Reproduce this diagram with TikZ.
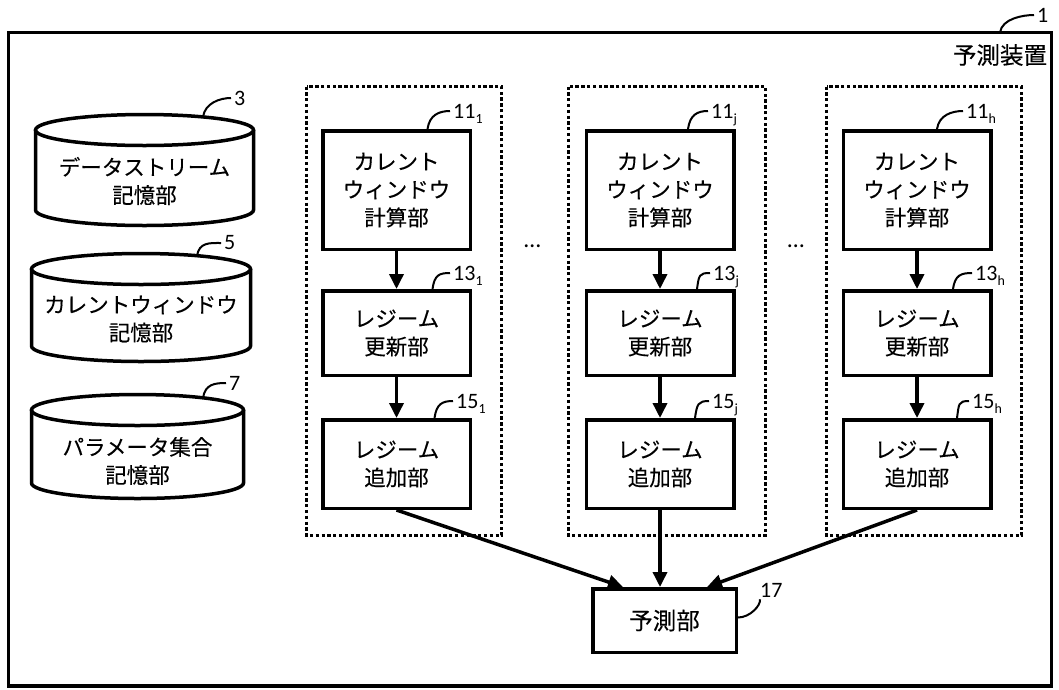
\documentclass[tikz,border=0pt]{standalone}
\usepackage{fontspec}
\setmainfont{Carlito}
\newfontfamily\jpfont[FakeBold=0.25]{Noto Sans CJK JP}
\usetikzlibrary{arrows.meta,calc}
\newcommand{\subx}[1]{\smash{\raisebox{-5pt}{\fontsize{14}{14}\selectfont #1}}}
\newcommand{\leader}[2]{\draw[lead] (#1) .. controls ($(#1)+(2,-14)$) and ($(#2.west)+(-14,0)$) .. ($(#2.west)+(-3,0)$);}
\begin{document}
\begin{tikzpicture}[x=1pt,y=-1pt,
  blk/.style={draw, line width=3.5pt, align=center, inner sep=0pt, minimum width=147.5pt, font=\jpfont\fontsize{21.5}{28}\selectfont},
  dotbox/.style={line width=3.5pt, dash pattern=on 3.3pt off 2.5pt},
  cyl/.style={line width=3.5pt},
  lead/.style={line width=2pt},
  num/.style={inner sep=0pt, anchor=west, font=\fontsize{22}{22}\selectfont},
  arr/.style={line width=3.5pt, -{Triangle[length=15pt,width=14pt]}},
  jtxt/.style={align=center, inner sep=0pt, font=\jpfont\fontsize{21.5}{28}\selectfont}]

\useasboundingbox (0,0) rectangle (1059,689);

% outer frame
\draw[line width=3.5pt] (8.5,32.5) rectangle (1051.5,686);
\node[jtxt, font=\jpfont\fontsize{23.5}{28}\selectfont] (title) at (1000,55) {予測装置};
\coordinate (f1) at (1000,32.5);
\node[num] (n1) at (1037,15) {1};
\leader{f1}{n1}

% cylinders
\draw[cyl] (35.5,130) -- (35.5,210) arc[start angle=180,end angle=0,x radius=109,y radius=15.5] -- (253.5,130);
\draw[cyl] (144.5,130) ellipse[x radius=109, y radius=15.5];
\node[jtxt] (s3) at (144.5,181) {データストリーム\\記憶部};
\coordinate (s3t) at (203,117);
\node[num] (n3) at (234,98) {3};
\leader{s3t}{n3}

\draw[cyl] (31.5,269) -- (31.5,346) arc[start angle=180,end angle=0,x radius=109.5,y radius=15.5] -- (250.5,269);
\draw[cyl] (141,269) ellipse[x radius=109.5, y radius=15.5];
\node[jtxt] (s5) at (141,319) {カレントウィンドウ\\記憶部};
\coordinate (s5t) at (197,256);
\node[num] (n5) at (224,243) {5};
\leader{s5t}{n5}

\draw[cyl] (31.5,410) -- (31.5,483) arc[start angle=180,end angle=0,x radius=106,y radius=15.5] -- (243.5,410);
\draw[cyl] (137.5,410) ellipse[x radius=106, y radius=15.5];
\node[jtxt] (s7) at (137.5,461) {パラメータ集合\\記憶部};
\coordinate (s7t) at (203,398);
\node[num] (n7) at (229,383) {7};
\leader{s7t}{n7}

% dotted groups
\draw[dotbox] (306.5,86.5) rectangle (501.5,535.5);
\draw[dotbox] (568.5,86.5) rectangle (765.5,535.5);
\draw[dotbox] (826.5,86.5) rectangle (1021.5,535.5);

% column 1
\node[blk, minimum height=118.5pt] (c1) at (396.5,190) {カレント\\ウィンドウ\\計算部};
\node[blk, minimum height=84.5pt] (u1) at (396.5,333) {レジーム\\更新部};
\node[blk, minimum height=88.5pt] (a1) at (396.5,464) {レジーム\\追加部};
% column j
\node[blk, minimum height=118.5pt] (cj) at (660,190) {カレント\\ウィンドウ\\計算部};
\node[blk, minimum height=84.5pt] (uj) at (660,333) {レジーム\\更新部};
\node[blk, minimum height=88.5pt] (aj) at (660,464) {レジーム\\追加部};
% column h
\node[blk, minimum height=118.5pt] (ch) at (917,190) {カレント\\ウィンドウ\\計算部};
\node[blk, minimum height=84.5pt] (uh) at (917,333) {レジーム\\更新部};
\node[blk, minimum height=88.5pt] (ah) at (917,464) {レジーム\\追加部};
% predictor
\node[blk, minimum width=143.5pt, minimum height=63.5pt, font=\jpfont\fontsize{23.5}{28}\selectfont] (p) at (664.5,620.5) {予測部};

% ellipses
\node[inner sep=0pt, font=\fontsize{24}{24}\selectfont] (d1) at (532.5,246) {…};
\node[inner sep=0pt, font=\fontsize{24}{24}\selectfont] (d2) at (796,246) {…};

% arrows
\draw[arr] (c1.south) -- (u1.north);
\draw[arr] (u1.south) -- (a1.north);
\draw[arr] (cj.south) -- (uj.north);
\draw[arr] (uj.south) -- (aj.north);
\draw[arr] (ch.south) -- (uh.north);
\draw[arr] (uh.south) -- (ah.north);
\draw[arr] (a1.south) -- ($(p.north)+(-41.5,0)$);
\draw[arr] (aj.south) -- (aj.south |- p.north);
\draw[arr] (ah.south) -- ($(p.north)+(42.5,0)$);

% reference labels
\node[num] (l11a) at (453,111) {11\subx{1}};
\node[num] (l13a) at (453,273) {13\subx{1}};
\node[num] (l15a) at (456,401) {15\subx{1}};
\node[num] (l11j) at (711,111) {11\subx{j}};
\node[num] (l13j) at (713,273) {13\subx{j}};
\node[num] (l15j) at (712,401) {15\subx{j}};
\node[num] (l11h) at (966,111) {11\subx{h}};
\node[num] (l13h) at (975,273) {13\subx{h}};
\node[num] (l15h) at (972,401) {15\subx{h}};
\coordinate (t11a) at ($(c1.north)+(31,0)$);
\coordinate (t13a) at ($(u1.north)+(36,0)$);
\coordinate (t15a) at ($(a1.north)+(38,0)$);
\coordinate (t11j) at ($(cj.north)+(28,0)$);
\coordinate (t13j) at ($(uj.north)+(37,0)$);
\coordinate (t15j) at ($(aj.north)+(35,0)$);
\coordinate (t11h) at ($(ch.north)+(20,0)$);
\coordinate (t13h) at ($(uh.north)+(36,0)$);
\coordinate (t15h) at ($(ah.north)+(40,0)$);
\leader{t11a}{l11a}
\leader{t13a}{l13a}
\leader{t15a}{l15a}
\leader{t11j}{l11j}
\leader{t13j}{l13j}
\leader{t15j}{l15j}
\leader{t11h}{l11h}
\leader{t13h}{l13h}
\leader{t15h}{l15h}

\node[num] (n17) at (760,590) {17};
\coordinate (p17) at ($(p.east)+(0,-3)$);
\draw[lead] (p17) .. controls ($(p17)+(12,0)$) and ($(n17.south west)+(1,8)$) .. ($(n17.south west)+(0,2)$);
\end{tikzpicture}
\end{document}
